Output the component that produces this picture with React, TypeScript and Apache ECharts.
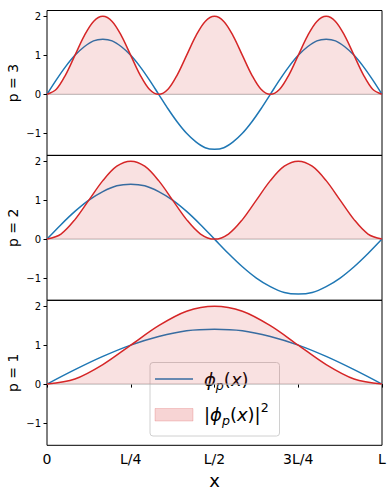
import React, { useEffect, useRef } from 'react';
import * as echarts from 'echarts';

const X_TICKS = [0, 0.25, 0.5, 0.75, 1];
const X_TICK_LABELS = ['0', 'L/4', 'L/2', '3L/4', 'L'];
const Y_TICKS = [-1, 0, 1, 2];
const PANEL_LABELS = ['p = 3', 'p = 2', 'p = 1'];

// sampled at equal steps across 0..L
const P3_PHI = [
  0, 0.37, 0.71, 1.0, 1.22, 1.37, 1.41, 1.37, 1.22, 1.0, 0.71, 0.37,
  0, -0.37, -0.71, -1.0, -1.22, -1.37, -1.41, -1.37, -1.22, -1.0, -0.71, -0.37,
  0, 0.37, 0.71, 1.0, 1.22, 1.37, 1.41, 1.37, 1.22, 1.0, 0.71, 0.37, 0,
];
const P3_SQ = [
  0, 0.13, 0.5, 1.0, 1.5, 1.87, 2.0, 1.87, 1.5, 1.0, 0.5, 0.13,
  0, 0.13, 0.5, 1.0, 1.5, 1.87, 2.0, 1.87, 1.5, 1.0, 0.5, 0.13,
  0, 0.13, 0.5, 1.0, 1.5, 1.87, 2.0, 1.87, 1.5, 1.0, 0.5, 0.13, 0,
];
const P2_PHI = [
  0, 0.37, 0.71, 1.0, 1.22, 1.37, 1.41, 1.37, 1.22, 1.0, 0.71, 0.37,
  0, -0.37, -0.71, -1.0, -1.22, -1.37, -1.41, -1.37, -1.22, -1.0, -0.71, -0.37, 0,
];
const P2_SQ = [
  0, 0.13, 0.5, 1.0, 1.5, 1.87, 2.0, 1.87, 1.5, 1.0, 0.5, 0.13,
  0, 0.13, 0.5, 1.0, 1.5, 1.87, 2.0, 1.87, 1.5, 1.0, 0.5, 0.13, 0,
];
const P1_PHI = [0, 0.37, 0.71, 1.0, 1.22, 1.37, 1.41, 1.37, 1.22, 1.0, 0.71, 0.37, 0];
const P1_SQ = [0, 0.13, 0.5, 1.0, 1.5, 1.87, 2.0, 1.87, 1.5, 1.0, 0.5, 0.13, 0];

const PANELS = [
  { phi: P3_PHI, sq: P3_SQ },
  { phi: P2_PHI, sq: P2_SQ },
  { phi: P1_PHI, sq: P1_SQ },
];

const BLUE = '#1f77b4';
const RED = '#d62728';
const FILL = 'rgba(214,39,40,0.2)';
const FONT = 'DejaVu Sans';
const SMOOTH = 0.33;

const toPairs = (arr: number[]) => arr.map((v, i) => [i / (arr.length - 1), v]);

export default function App() {
  const ref = useRef<HTMLDivElement>(null);
  useEffect(() => {
    if (!ref.current) return;
    const chart = echarts.init(ref.current, undefined, { renderer: 'svg' });
    const tops = [10.5, 155.3, 300.3];
    const H = 145;
    const grids = tops.map((t) => ({
      left: 47,
      top: t,
      width: 335,
      height: H,
      show: true,
      borderColor: '#000',
      borderWidth: 1,
      backgroundColor: 'transparent',
      containLabel: false,
    }));
    const xAxes = tops.map((_, i) => ({
      type: 'value',
      gridIndex: i,
      min: 0,
      max: 1,
      interval: 0.25,
      axisLine: { show: false },
      splitLine: { show: false },
      axisTick: {
        show: i === 2,
        length: 3.5,
        lineStyle: { color: '#000', width: 1 },
        customValues: X_TICKS,
      },
      axisLabel: {
        show: i === 2,
        customValues: X_TICKS,
        margin: 7,
        fontSize: 14,
        fontFamily: FONT,
        color: '#000',
        hideOverlap: false,
        formatter: (v: number) => {
          const k = X_TICKS.findIndex((t) => Math.abs(t - v) < 1e-6);
          return k >= 0 ? X_TICK_LABELS[k] : '';
        },
      },
    }));
    const yAxes = tops.map((_, i) => ({
      type: 'value',
      gridIndex: i,
      min: -1.57,
      max: 2.15,
      axisLine: { show: false },
      splitLine: { show: false },
      axisTick: {
        show: true,
        length: 3.5,
        lineStyle: { color: '#000', width: 1 },
        customValues: Y_TICKS,
      },
      axisLabel: {
        show: true,
        customValues: Y_TICKS,
        margin: 6,
        fontSize: 10,
        fontFamily: FONT,
        color: '#000',
        formatter: (v: number) => (v < 0 ? '\u2212' + Math.abs(v) : String(v)),
      },
    }));
    const series: any[] = [];
    PANELS.forEach((p, i) => {
      series.push({
        type: 'line',
        xAxisIndex: i,
        yAxisIndex: i,
        data: [[0, 0], [1, 0]],
        symbol: 'none',
        lineStyle: { color: '#b8b4b4', width: 1 },
        z: 1,
        silent: true,
      });
      series.push({
        type: 'line',
        xAxisIndex: i,
        yAxisIndex: i,
        data: toPairs(p.phi),
        smooth: SMOOTH,
        symbol: 'none',
        lineStyle: { color: BLUE, width: 1.5 },
        z: 2,
      });
      series.push({
        type: 'line',
        xAxisIndex: i,
        yAxisIndex: i,
        data: toPairs(p.sq),
        smooth: SMOOTH,
        symbol: 'none',
        lineStyle: { color: RED, width: 1.5 },
        z: 3,
      });
      series.push({
        type: 'line',
        xAxisIndex: i,
        yAxisIndex: i,
        data: toPairs(p.sq),
        smooth: SMOOTH,
        symbol: 'none',
        lineStyle: { width: 0, opacity: 0 },
        areaStyle: { color: FILL, origin: 0 },
        z: 4,
      });
    });

    const mainTok = { fontSize: 18, fontFamily: FONT, color: '#000', lineHeight: 26, verticalAlign: 'middle' };
    const itTok = { ...mainTok, fontStyle: 'italic' };
    const subTok = { fontSize: 12.6, fontFamily: FONT, fontStyle: 'italic', color: '#000', lineHeight: 14, verticalAlign: 'bottom' };
    const supTok = { fontSize: 12.6, fontFamily: FONT, color: '#000', lineHeight: 14, verticalAlign: 'top' };
    const rich = { n: mainTok, i: itTok, s: subTok, u: supTok };

    const graphic: any[] = [
      ...PANEL_LABELS.map((t, i) => ({
        type: 'text',
        x: 13,
        y: tops[i] + H / 2,
        rotation: Math.PI / 2,
        style: { text: t, fontSize: 14, fontFamily: FONT, fill: '#000', align: 'center', verticalAlign: 'middle' },
      })),
      {
        type: 'text',
        x: 214.5,
        y: 480,
        style: { text: 'x', fontSize: 18, fontFamily: FONT, fill: '#000', align: 'center', verticalAlign: 'middle' },
      },
      {
        type: 'group',
        z: 100,
        children: [
          {
            type: 'rect',
            shape: { x: 150, y: 362.5, width: 129.5, height: 73.5, r: 3 },
            style: { fill: 'rgba(255,255,255,0.8)', stroke: '#d0d0d0', lineWidth: 1 },
          },
          {
            type: 'line',
            shape: { x1: 155, y1: 379, x2: 193, y2: 379 },
            style: { stroke: BLUE, lineWidth: 1.5 },
          },
          {
            type: 'rect',
            shape: { x: 155, y: 408.5, width: 38, height: 12.5 },
            style: { fill: FILL, stroke: 'rgba(214,39,40,0.2)', lineWidth: 1 },
          },
          {
            type: 'text',
            x: 204,
            y: 379,
            style: { text: '{i|ϕ}{s|p}{n|(}{i|x}{n|)}', rich, verticalAlign: 'middle', align: 'left' },
          },
          {
            type: 'text',
            x: 204,
            y: 414,
            style: { text: '{n||}{i|ϕ}{s|p}{n|(}{i|x}{n|)|}{u|2}', rich, verticalAlign: 'middle', align: 'left' },
          },
        ],
      },
    ];

    chart.setOption({
      animation: false,
      grid: grids,
      xAxis: xAxes,
      yAxis: yAxes,
      series,
      graphic,
    } as any);
    return () => chart.dispose();
  }, []);
  return (
    <div
      ref={ref}
      style={{ position: 'absolute', left: 0, top: 0, width: 392, height: 495, background: '#fff' }}
    />
  );
}
